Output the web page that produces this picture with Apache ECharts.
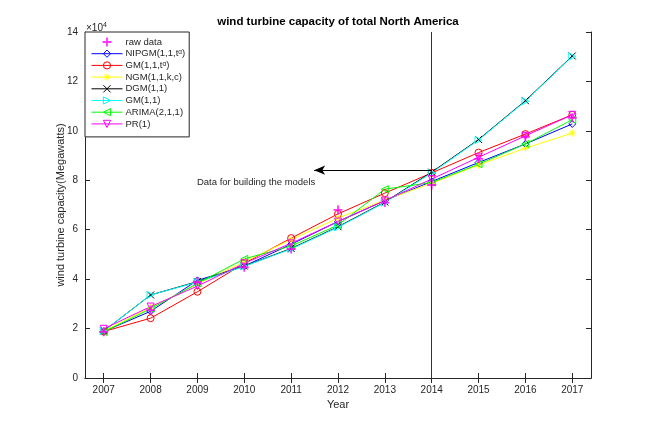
<!DOCTYPE html>
<html lang="en">
<head>
  <meta charset="UTF-8">
  <title>wind turbine capacity of total North America</title>
  <script src="https://cdn.jsdelivr.net/npm/echarts@6/dist/echarts.min.js"></script>
  <style>
    html, body { margin: 0; padding: 0; background: #fff; }
    #chart { width: 654px; height: 425px; }
  </style>
</head>
<body>
<div id="chart"></div>

<script>
  // values in units of 1e4 MW
  const years = [2007, 2008, 2009, 2010, 2011, 2012, 2013, 2014, 2015, 2016, 2017];
  const yTicks = [0, 2, 4, 6, 8, 10, 12, 14];

  const rawData = [1.87, 2.75, 3.90, 4.48, 5.22, 6.80, 7.10, 7.81, 8.87, 9.76, 10.53];
  const nipgm   = [1.88, 2.70, 3.95, 4.53, 5.41, 6.33, 7.18, 7.95, 8.72, 9.47, 10.28];
  const gmTa    = [1.88, 2.42, 3.49, 4.64, 5.66, 6.64, 7.48, 8.30, 9.12, 9.87, 10.65];
  const ngm     = [1.90, 2.85, 3.80, 4.70, 5.60, 6.47, 7.20, 7.88, 8.62, 9.30, 9.91];
  const dgm     = [1.90, 3.36, 3.90, 4.53, 5.24, 6.12, 7.12, 8.33, 9.65, 11.22, 13.03];
  const gm11    = [1.90, 3.36, 3.88, 4.52, 5.22, 6.10, 7.10, 8.30, 9.63, 11.20, 13.01];
  const arima   = [1.86, 2.80, 3.83, 4.82, 5.34, 6.19, 7.64, 7.91, 8.65, 9.47, 10.45];
  const pr1     = [1.99, 2.89, 3.72, 4.64, 5.45, 6.33, 7.18, 8.05, 8.93, 9.80, 10.65];

  const splitYear = 2014;
  const arrowFrom = [2014, 8.41];
  const arrowTo = [2011.49, 8.41];
  const notePos = [2008.99, 7.92];

  const FONT = "'Liberation Sans', Arial, sans-serif";
  const INK = '#262626';
  const CLEAR = 'rgba(0,0,0,0)';

  const PLUS = 'path://M4,0H6V4H10V6H6V10H4V6H0V4H4Z';
  const CROSS = 'path://M0,0L10,10M10,0L0,10';
  const STAR = 'path://M5,0V10M0,5H10M1.5,1.5L8.5,8.5M8.5,1.5L1.5,8.5';

  function pairs(values) {
    return values.map((v, i) => [years[i], v]);
  }

  function model(name, values, color, symbol, rotate) {
    return {
      name: name,
      type: 'line',
      data: pairs(values),
      symbol: symbol,
      symbolSize: 7,
      symbolRotate: rotate || 0,
      lineStyle: { color: color, width: 1 },
      itemStyle: { color: CLEAR, borderColor: color, borderWidth: 1 },
      emphasis: { disabled: true },
      animation: false
    };
  }

  function legendItem(name, color) {
    return {
      name: name,
      itemStyle: { color: CLEAR, borderColor: color, borderWidth: 1 },
      lineStyle: { color: color, width: 1 }
    };
  }

  const chart = echarts.init(document.getElementById('chart'));

  const option = {
    backgroundColor: '#fff',
    textStyle: { fontFamily: FONT },
    grid: { left: 85, right: 63, top: 32, bottom: 47 },
    legend: {
      orient: 'vertical',
      left: 85,
      top: 32,
      padding: [5, 4, 8, 6],
      itemWidth: 31,
      itemHeight: 9,
      itemGap: 1.7,
      backgroundColor: '#fff',
      borderColor: INK,
      borderWidth: 1,
      borderRadius: 0,
      selectedMode: false,
      textStyle: {
        fontSize: 9.5,
        color: INK,
        lineHeight: 10,
        padding: [0, 0, 0, -2],
        rich: { sup: { fontSize: 6.5, verticalAlign: 'top', padding: [0, 0, 5, 0], color: INK } }
      },
      formatter: name => name.replace('tα', 't{sup|α}'),
      data: [
        { name: 'raw data', itemStyle: { color: '#ff00ff', borderWidth: 0 } },
        legendItem('NIPGM(1,1,tα)', '#0000ff'),
        legendItem('GM(1,1,tα)', '#ff0000'),
        legendItem('NGM(1,1,k,c)', '#ffff00'),
        legendItem('DGM(1,1)', '#000000'),
        legendItem('GM(1,1)', '#00ffff'),
        legendItem('ARIMA(2,1,1)', '#00ff00'),
        legendItem('PR(1)', '#ff00ff')
      ]
    },
    xAxis: [{
      type: 'value',
      min: 2006.6,
      max: 2017.4,
      position: 'bottom',
      name: 'Year',
      nameLocation: 'middle',
      nameGap: 20,
      nameTextStyle: { fontSize: 11, color: INK },
      axisLine: { show: true, lineStyle: { color: INK, width: 1 } },
      axisTick: { show: true, inside: true, length: 5, customValues: years, lineStyle: { color: INK } },
      axisLabel: { customValues: years, formatter: v => String(v), fontSize: 10, color: INK, margin: 7 },
      splitLine: { show: false }
    }, {
      type: 'value',
      min: 2006.6,
      max: 2017.4,
      position: 'top',
      axisLine: { show: true, lineStyle: { color: INK, width: 1 } },
      axisTick: { show: true, inside: true, length: 5, customValues: years, lineStyle: { color: INK } },
      axisLabel: { show: false },
      splitLine: { show: false }
    }],
    yAxis: [{
      type: 'value',
      min: 0,
      max: 14,
      interval: 2,
      position: 'left',
      name: 'wind turbine capacity(Megawatts)',
      nameLocation: 'middle',
      nameGap: 19,
      nameMoveOverlap: false,
      nameTextStyle: { fontSize: 11, color: INK },
      axisLine: { show: true, lineStyle: { color: INK, width: 1 } },
      axisTick: { show: true, inside: true, length: 5, customValues: yTicks, lineStyle: { color: INK } },
      axisLabel: { customValues: yTicks, fontSize: 10, color: INK, margin: 7 },
      splitLine: { show: false }
    }, {
      type: 'value',
      min: 0,
      max: 14,
      interval: 2,
      position: 'right',
      axisLine: { show: true, lineStyle: { color: INK, width: 1 } },
      axisTick: { show: true, inside: true, length: 5, lineStyle: { color: INK } },
      axisLabel: { show: false },
      splitLine: { show: false }
    }],
    series: [
      model('NIPGM(1,1,tα)', nipgm, '#0000ff', 'diamond'),
      model('GM(1,1,tα)', gmTa, '#ff0000', 'circle'),
      model('NGM(1,1,k,c)', ngm, '#ffff00', STAR),
      model('DGM(1,1)', dgm, '#000000', CROSS),
      model('GM(1,1)', gm11, '#00ffff', 'triangle', -90),
      model('ARIMA(2,1,1)', arima, '#00ff00', 'triangle', 90),
      model('PR(1)', pr1, '#ff00ff', 'triangle', 180),
      {
        name: 'raw data',
        type: 'scatter',
        data: pairs(rawData),
        symbol: PLUS,
        symbolSize: 9,
        itemStyle: { color: '#ff00ff' },
        emphasis: { disabled: true },
        animation: false,
        z: 3,
        markLine: {
          silent: true,
          animation: false,
          symbol: ['none', 'none'],
          label: { show: false },
          data: [
            [
              { coord: [splitYear, 0], lineStyle: { color: '#333', width: 1, type: 'solid' } },
              { coord: [splitYear, 14] }
            ],
            [
              { coord: arrowFrom, lineStyle: { color: '#000', width: 1, type: 'solid' } },
              { coord: arrowTo, symbol: 'arrow', symbolSize: [7, 11] }
            ]
          ]
        }
      }
    ],
    graphic: [{
      type: 'text',
      x: 338,
      y: 22,
      style: {
        text: 'wind turbine capacity of total North America',
        fontFamily: FONT,
        fontSize: 11.5,
        fontWeight: 'bold',
        fill: '#000',
        align: 'center',
        verticalAlign: 'middle'
      }
    }, {
      type: 'text',
      x: 86,
      y: 22,
      style: {
        text: '×10{sup|4}',
        fontFamily: FONT,
        fontSize: 10,
        fill: INK,
        rich: { sup: { fontSize: 7, verticalAlign: 'top', padding: [0, 0, 6, 0], fill: INK } }
      }
    }]
  };

  chart.setOption(option);

  // annotation text placed at a data coordinate
  const p = chart.convertToPixel({ xAxisIndex: 0, yAxisIndex: 0 }, notePos);
  chart.setOption({
    graphic: [{}, {}, {
      type: 'text',
      x: p[0],
      y: p[1],
      style: {
        text: 'Data for building the models',
        fontFamily: FONT,
        fontSize: 9.5,
        fill: INK,
        align: 'left',
        verticalAlign: 'middle'
      }
    }]
  });
</script>
</body>
</html>
